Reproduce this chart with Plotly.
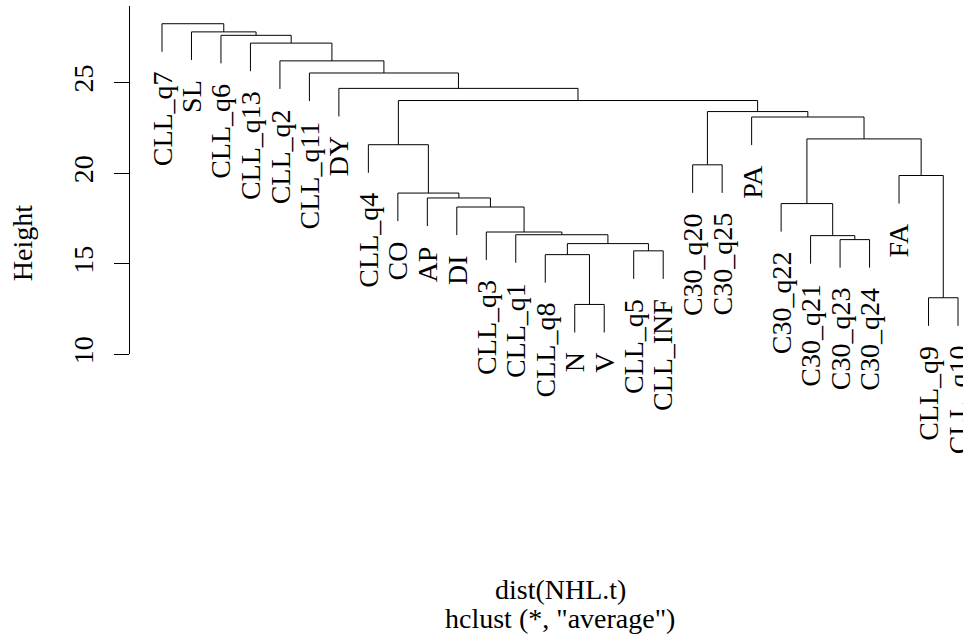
import plotly.graph_objects as go

# Leaves in dendrogram order (left to right)
leaf_labels = [
    "CLL_q7", "SL", "CLL_q6", "CLL_q13", "CLL_q2", "CLL_q11", "DY",
    "CLL_q4", "CO", "AP", "DI", "CLL_q3", "CLL_q1", "CLL_q8", "N", "V",
    "CLL_q5", "CLL_INF", "C30_q20", "C30_q25", "PA", "C30_q22", "C30_q21",
    "C30_q23", "C30_q24", "FA", "CLL_q9", "CLL_q10",
]

# Agglomeration steps: a string is a leaf, an int is an earlier step (0-based)
merge_pairs = [
    ("N", "V"),
    ("CLL_q9", "CLL_q10"),
    ("CLL_q8", 0),
    ("CLL_q5", "CLL_INF"),
    (2, 3),
    ("C30_q23", "C30_q24"),
    ("C30_q21", 5),
    ("CLL_q1", 4),
    ("CLL_q3", 7),
    ("DI", 8),
    ("C30_q22", 6),
    ("AP", 9),
    ("CO", 11),
    ("FA", 1),
    ("C30_q20", "C30_q25"),
    ("CLL_q4", 12),
    (10, 13),
    ("PA", 16),
    (14, 17),
    (15, 18),
    ("DY", 19),
    ("CLL_q11", 20),
    ("CLL_q2", 21),
    ("CLL_q13", 22),
    ("CLL_q6", 23),
    ("SL", 24),
    ("CLL_q7", 25),
]
merge_heights = [
    12.76, 13.13, 15.51, 15.72, 16.12, 16.34, 16.56, 16.61, 16.76, 18.14,
    18.33, 18.64, 18.91, 19.88, 20.47, 21.58, 21.90, 23.11, 23.41, 24.02,
    24.69, 25.54, 26.21, 27.19, 27.62, 27.81, 28.26,
]

y_tick_values = [10, 15, 20, 25]
x_title = "dist(NHL.t)"
x_subtitle = 'hclust (*, "average")'
y_title = "Height"

# ---- geometry of the dendrogram ----
hang = 0.1 * (max(merge_heights) - min(merge_heights))
leaf_pos = {lab: i + 1 for i, lab in enumerate(leaf_labels)}
node_x = []
leaf_end = {}
seg_x, seg_y = [], []
for k, (a, b) in enumerate(merge_pairs):
    h = merge_heights[k]
    ends = []
    for child in (a, b):
        if isinstance(child, str):
            cx, cy = leaf_pos[child], h - hang
            leaf_end[child] = cy
        else:
            cx, cy = node_x[child], merge_heights[child]
        ends.append((cx, cy))
    (x1, y1), (x2, y2) = ends
    seg_x += [x1, x1, x2, x2, None]
    seg_y += [y1, h, h, y2, None]
    node_x.append((x1 + x2) / 2)

# ---- page layout (pixels) ----
FIG_W, FIG_H = 963, 642
PLOT_L, PLOT_T = 130, 6
FIRST_LEAF_PX, LAST_LEAF_PX = 162, 958
PX_PER_LEAF = (LAST_LEAF_PX - FIRST_LEAF_PX) / (len(leaf_labels) - 1)
PX_PER_UNIT = 18.4
Y10_PX = 360

x_lo = 1 - (FIRST_LEAF_PX - PLOT_L) / PX_PER_LEAF
x_hi = 1 + (FIG_W - FIRST_LEAF_PX) / PX_PER_LEAF
y_hi = 10 + (Y10_PX - PLOT_T) / PX_PER_UNIT
y_lo = 10 - (FIG_H - Y10_PX) / PX_PER_UNIT

FONT = "Liberation Serif"
FS = 28


def paper_x(px):
    return (px - PLOT_L) / (FIG_W - PLOT_L)


def paper_y(py):
    return (FIG_H - py) / (FIG_H - PLOT_T)


fig = go.Figure()
fig.add_trace(go.Scatter(
    x=seg_x, y=seg_y, mode="lines",
    line=dict(color="black", width=1),
    hoverinfo="skip", showlegend=False, cliponaxis=False,
))
# empty trace so the height axis gets its own subplot
fig.add_trace(go.Scatter(x=[], y=[], yaxis="y2", showlegend=False, hoverinfo="skip"))

annotations = []
for lab in leaf_labels:
    annotations.append(dict(
        x=leaf_pos[lab], y=leaf_end[lab], xref="x", yref="y",
        text=lab, textangle=-90, showarrow=False,
        xanchor="center", yanchor="top", yshift=-18,
        font=dict(family=FONT, size=FS, color="black"),
    ))

annotations += [
    dict(x=paper_x(560), y=paper_y(599), xref="paper", yref="paper",
         text=x_title, showarrow=False, xanchor="center", yanchor="middle",
         borderpad=0,
         font=dict(family=FONT, size=FS, color="black")),
    dict(x=paper_x(560), y=paper_y(628), xref="paper", yref="paper",
         text=x_subtitle, showarrow=False, xanchor="center", yanchor="middle",
         borderpad=0,
         font=dict(family=FONT, size=FS, color="black")),
    dict(x=paper_x(22), y=paper_y(247), xref="paper", yref="paper",
         text=y_title, textangle=-90, showarrow=False,
         xanchor="center", yanchor="middle",
         font=dict(family=FONT, size=FS, color="black")),
]

fig.update_layout(
    width=FIG_W, height=FIG_H,
    margin=dict(l=PLOT_L, r=0, t=PLOT_T, b=0, pad=0),
    paper_bgcolor="white", plot_bgcolor="rgba(0,0,0,0)",
    showlegend=False,
    xaxis=dict(range=[x_lo, x_hi], visible=False, domain=[0, 1]),
    yaxis=dict(range=[y_lo, y_hi], visible=False, domain=[0, 1]),
    yaxis2=dict(
        range=[10, y_hi],
        domain=[(10 - y_lo) / (y_hi - y_lo), 1],
        anchor="x", side="left",
        showline=True, linecolor="black", linewidth=1,
        ticks="outside", ticklen=15, tickcolor="black", tickwidth=1,
        tickmode="array", tickvals=y_tick_values,
        tickangle=-90, ticklabelstandoff=10,
        tickfont=dict(family=FONT, size=FS, color="black"),
        showgrid=False, zeroline=False,
    ),
    annotations=annotations,
)

fig.write_html("out.html")
